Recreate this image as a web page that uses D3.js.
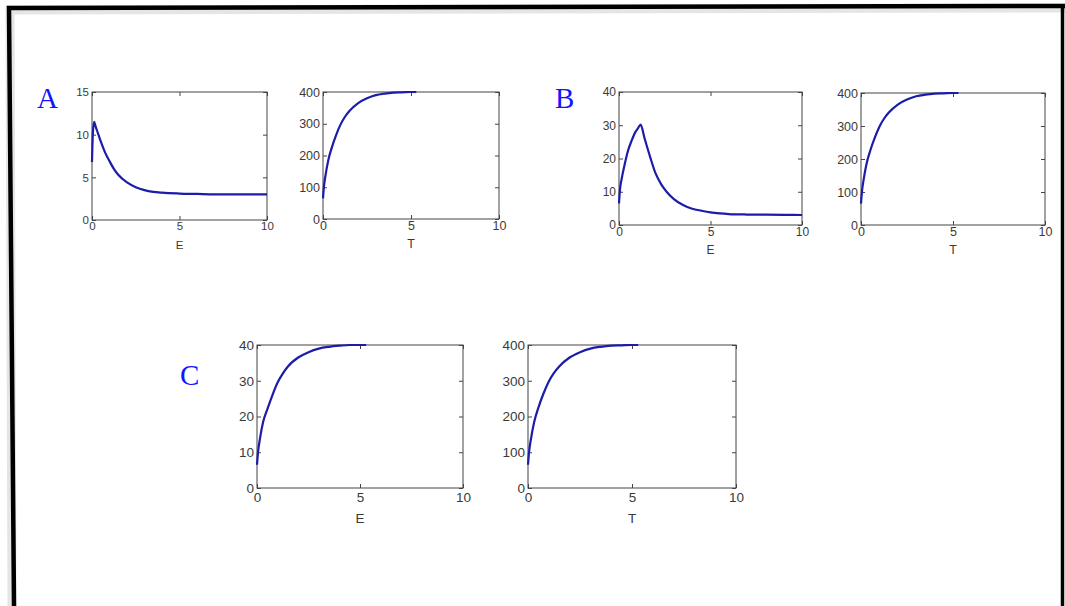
<!DOCTYPE html>
<html lang="en">
<head>
    <meta charset="UTF-8">
    <title>E and T panels</title>
    <script src="https://d3js.org/d3.v7.min.js"></script>
    <style>
        body { margin: 0; background: #ffffff; }
        .tick text { font-family: Arial, "Liberation Sans", sans-serif; fill: #3a3a3a; }
        .tick line { stroke: #444444; }
        .domain { display: none; }
        .curve { fill: none; stroke: #1c1ca8; stroke-width: 2.2; stroke-linejoin: round; }
        .panelLetter { font-family: "Liberation Serif", "Times New Roman", serif; fill: #1414ff; }
        .axisName { font-family: Arial, "Liberation Sans", sans-serif; fill: #3a3a3a; }
    </style>
</head>
<body>
    <svg id="chart" width="1065" height="606"></svg>
    <script>
        // Panel A, E against time
        const aTimeE = [0, 0.05, 0.12, 0.2, 0.3, 0.5, 0.75, 1, 1.25, 1.5, 2, 2.5, 3, 3.5, 4, 5, 6, 7, 8, 9, 10];
        const aE = [6.8, 10.2, 11.5, 11.0, 10.4, 9.2, 7.9, 6.9, 6.0, 5.3, 4.4, 3.85, 3.5, 3.3, 3.2, 3.1, 3.05, 3.0, 3.0, 3.0, 3.0];

        // T against time (same curve in all three rows)
        const timeT = [0, 0.05, 0.15, 0.3, 0.5, 0.75, 1, 1.25, 1.5, 2, 2.5, 3, 3.5, 4, 4.5, 5, 5.3];
        const valuesT = [65, 100, 140, 185, 225, 265, 298, 322, 340, 365, 380, 390, 395, 398, 399, 400, 400];

        // Panel B, E against time
        const bTimeE = [0, 0.05, 0.15, 0.3, 0.5, 0.7, 0.9, 1.05, 1.18, 1.4, 1.7, 2, 2.3, 2.6, 3, 3.5, 4, 4.5, 5, 5.5, 6, 7, 8, 9, 10];
        const bE = [6.5, 10.5, 14, 18, 22.5, 25.5, 28, 29.2, 30.2, 26, 20.5, 15.5, 12.3, 10, 7.8, 6, 4.9, 4.3, 3.8, 3.5, 3.3, 3.15, 3.1, 3.05, 3.0];

        // Panel C, E against time
        const cTimeE = [0, 0.05, 0.15, 0.3, 0.5, 0.75, 1, 1.25, 1.5, 2, 2.5, 3, 3.5, 4, 4.5, 5, 5.3];
        const cE = [6.5, 10, 14, 18.5, 22, 26, 29.5, 32, 34, 36.5, 38, 39, 39.5, 39.8, 40, 40, 40];

        const xTicks = [0, 5, 10];
        const ticksA = [0, 5, 10, 15];
        const ticksB = [0, 10, 20, 30, 40];
        const ticksT = [0, 100, 200, 300, 400];

        const svg = d3.select("#chart");

        // frame around the figure (slightly skewed like the scan)
        svg.append("path")
            .attr("d", "M9,606 L7,7 L1065,5")
            .attr("fill", "none")
            .attr("stroke", "#cccccc")
            .attr("stroke-width", 9)
            .attr("transform", "translate(3,3)")
            .attr("opacity", 0.5);
        svg.append("path")
            .attr("d", "M14,606 L9,8 L1065,6")
            .attr("fill", "none")
            .attr("stroke", "#000000")
            .attr("stroke-width", 4.5);
        svg.append("line")
            .attr("x1", 1062.5).attr("y1", 8)
            .attr("x2", 1062.5).attr("y2", 606)
            .attr("stroke", "#000000")
            .attr("stroke-width", 3.5);

        const panels = [
            {box: [92, 92, 267, 220], xs: aTimeE, ys: aE, yMax: 15, yTicks: ticksA, name: "E", font: 11.5, gap: 25, letter: "A"},
            {box: [323, 92, 499, 219], xs: timeT, ys: valuesT, yMax: 400, yTicks: ticksT, name: "T", font: 12.5, gap: 25},
            {box: [619, 92, 802, 225], xs: bTimeE, ys: bE, yMax: 40, yTicks: ticksB, name: "E", font: 12, gap: 25, letter: "B"},
            {box: [861, 93, 1045, 225], xs: timeT, ys: valuesT, yMax: 400, yTicks: ticksT, name: "T", font: 12.5, gap: 25},
            {box: [257, 345, 463, 488], xs: cTimeE, ys: cE, yMax: 40, yTicks: ticksB, name: "E", font: 13.5, gap: 30, letter: "C"},
            {box: [528, 345, 736, 488], xs: timeT, ys: valuesT, yMax: 400, yTicks: ticksT, name: "T", font: 13.5, gap: 30}
        ];

        const letterPos = {A: [37, 108], B: [555, 108], C: [180, 385]};

        panels.forEach(p => {
            const [x0, y0, x1, y1] = p.box;
            const x = d3.scaleLinear().domain([0, 10]).range([x0, x1]);
            const y = d3.scaleLinear().domain([0, p.yMax]).range([y1, y0]);
            const g = svg.append("g");

            g.append("rect")
                .attr("x", x0).attr("y", y0)
                .attr("width", x1 - x0).attr("height", y1 - y0)
                .attr("fill", "#ffffff")
                .attr("stroke", "#444444")
                .attr("stroke-width", 1);

            const pad = p.gap > 25 ? 4 : 2;
            g.append("g")
                .attr("transform", `translate(0,${y1})`)
                .style("font-size", p.font + "px")
                .call(d3.axisBottom(x).tickValues(xTicks).tickSize(-4).tickPadding(pad));
            g.append("g")
                .attr("transform", `translate(0,${y0})`)
                .call(d3.axisTop(x).tickValues(xTicks).tickSize(-4).tickFormat(""));
            g.append("g")
                .attr("transform", `translate(${x0},0)`)
                .style("font-size", p.font + "px")
                .call(d3.axisLeft(y).tickValues(p.yTicks).tickSize(-4).tickPadding(3));
            g.append("g")
                .attr("transform", `translate(${x1},0)`)
                .call(d3.axisRight(y).tickValues(p.yTicks).tickSize(-4).tickFormat(""));

            const line = d3.line()
                .x((d, i) => x(p.xs[i]))
                .y(d => y(d))
                .curve(d3.curveMonotoneX);
            g.append("path")
                .datum(p.ys)
                .attr("class", "curve")
                .attr("d", line);

            g.append("text")
                .attr("class", "axisName")
                .attr("x", (x0 + x1) / 2)
                .attr("y", y1 + p.gap)
                .attr("dy", "0.35em")
                .attr("text-anchor", "middle")
                .style("font-size", p.font + "px")
                .text(p.name);

            if (p.letter) {
                svg.append("text")
                    .attr("class", "panelLetter")
                    .attr("x", letterPos[p.letter][0])
                    .attr("y", letterPos[p.letter][1])
                    .style("font-size", "29px")
                    .text(p.letter);
            }
        });
    </script>
</body>
</html>
